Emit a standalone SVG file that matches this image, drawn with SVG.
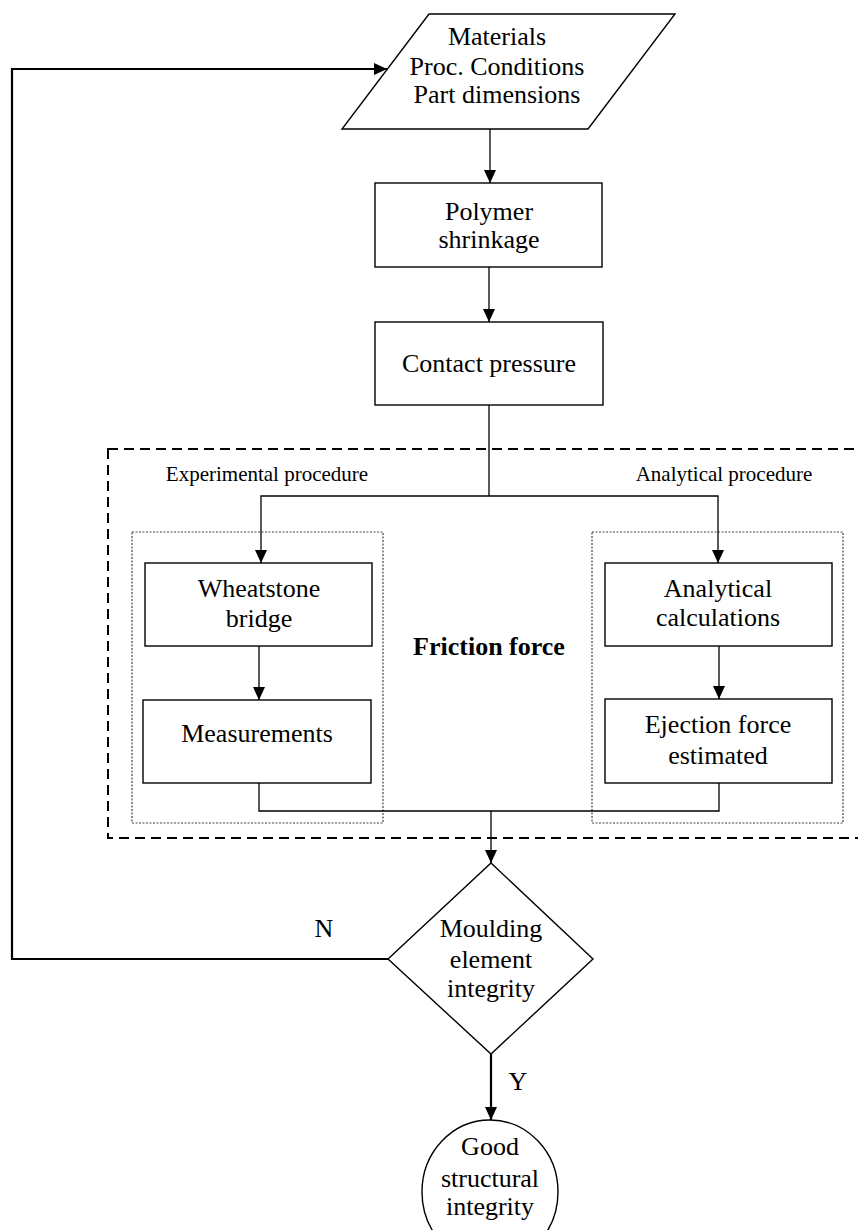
<svg xmlns="http://www.w3.org/2000/svg" width="858" height="1230" viewBox="0 0 858 1230">
  <defs>
    <marker id="arrow" markerUnits="userSpaceOnUse" markerWidth="14" markerHeight="12" refX="13" refY="6" orient="auto">
      <path d="M0,0 L13,6 L0,12 Z" fill="#000"/>
    </marker>
    <style>
      .shape { fill: #fff; stroke: #000; stroke-width: 1.4; }
      .label { font-family: "Liberation Serif", "Times New Roman", serif; font-size: 26px; fill: #000; text-anchor: middle; }
      .small { font-family: "Liberation Serif", "Times New Roman", serif; font-size: 21px; fill: #000; text-anchor: middle; }
      .bold { font-weight: bold; }
      .wire { fill: none; stroke: #000; stroke-width: 1.3; }
      .thick { fill: none; stroke: #000; stroke-width: 2.2; }
      .group-dash { fill: none; stroke: #000; stroke-width: 2; stroke-dasharray: 10 6; }
      .group-dot { fill: none; stroke: #444; stroke-width: 1.2; stroke-dasharray: 2 1.5; }
    </style>
  </defs>

  <rect width="858" height="1230" fill="#fff"/>

  <!-- grouping frames -->
  <g id="friction-frame">
    <rect class="group-dash" x="108" y="449" width="760" height="389"/>
    <text class="small" x="267" y="481">Experimental procedure</text>
    <text class="small" x="724" y="481">Analytical procedure</text>
    <text class="label bold" x="489" y="655">Friction force</text>
  </g>
  <g id="experimental-frame">
    <rect class="group-dot" x="132" y="532" width="251" height="291"/>
  </g>
  <g id="analytical-frame">
    <rect class="group-dot" x="592" y="532" width="251" height="291"/>
  </g>

  <!-- connectors -->
  <g id="connectors">
    <path class="wire" d="M490,129 V183" marker-end="url(#arrow)"/>
    <path class="wire" d="M489,267 V322" marker-end="url(#arrow)"/>
    <path class="wire" d="M489,405 V496"/>
    <path class="wire" d="M489,496 H261 V563" marker-end="url(#arrow)"/>
    <path class="wire" d="M489,496 H718 V563" marker-end="url(#arrow)"/>
    <path class="wire" d="M259,646 V700" stroke="#555" marker-end="url(#arrow)"/>
    <path class="wire" d="M719,646 V699" marker-end="url(#arrow)"/>
    <path class="wire" d="M259,783 V811 H719 V783"/>
    <path class="wire" d="M491,811 V863" marker-end="url(#arrow)"/>
    <path class="thick" d="M388,959 H12 V69 H387" marker-end="url(#arrow)"/>
    <path class="thick" d="M491,1054 V1120" marker-end="url(#arrow)"/>
    <text class="label" x="324" y="937">N</text>
    <text class="label" x="518" y="1090">Y</text>
  </g>

  <!-- nodes -->
  <g id="inputs">
    <polygon class="shape" points="429,14 675,14 588,129 342,129"/>
    <text class="label" x="497" y="45">Materials</text>
    <text class="label" x="497" y="75">Proc. Conditions</text>
    <text class="label" x="497" y="103">Part dimensions</text>
  </g>

  <g id="polymer-shrinkage">
    <rect class="shape" x="375" y="183" width="227" height="84"/>
    <text class="label" x="489" y="220">Polymer</text>
    <text class="label" x="489" y="248">shrinkage</text>
  </g>

  <g id="contact-pressure">
    <rect class="shape" x="375" y="322" width="228" height="83"/>
    <text class="label" x="489" y="372">Contact pressure</text>
  </g>

  <g id="wheatstone-bridge">
    <rect class="shape" x="145" y="563" width="227" height="83"/>
    <text class="label" x="259" y="597">Wheatstone</text>
    <text class="label" x="259" y="627">bridge</text>
  </g>

  <g id="measurements">
    <rect class="shape" x="143" y="700" width="228" height="83"/>
    <text class="label" x="257" y="742">Measurements</text>
  </g>

  <g id="analytical-calculations">
    <rect class="shape" x="605" y="563" width="227" height="83"/>
    <text class="label" x="718" y="597">Analytical</text>
    <text class="label" x="718" y="626">calculations</text>
  </g>

  <g id="ejection-force">
    <rect class="shape" x="605" y="699" width="227" height="84"/>
    <text class="label" x="718" y="733">Ejection force</text>
    <text class="label" x="718" y="764">estimated</text>
  </g>

  <g id="integrity-check">
    <polygon class="shape" points="491,863 593,959 491,1054 388,959"/>
    <text class="label" x="491" y="937">Moulding</text>
    <text class="label" x="491" y="968">element</text>
    <text class="label" x="491" y="997">integrity</text>
  </g>

  <g id="good-integrity">
    <ellipse class="shape" cx="490" cy="1192" rx="68" ry="72"/>
    <text class="label" x="490" y="1155">Good</text>
    <text class="label" x="490" y="1187">structural</text>
    <text class="label" x="490" y="1215">integrity</text>
  </g>
</svg>
